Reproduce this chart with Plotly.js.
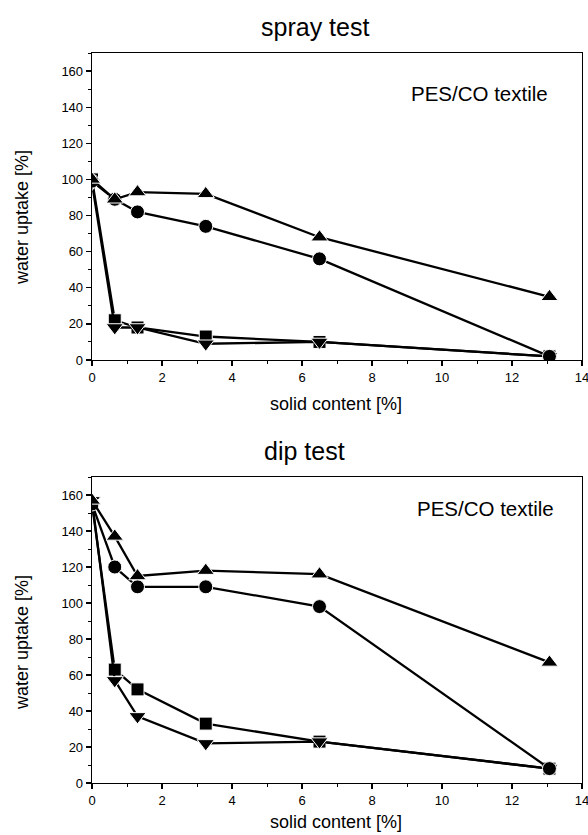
<!DOCTYPE html>
<html>
<head>
<meta charset="utf-8">
<script src="https://cdn.plot.ly/plotly-3.0.1.min.js"></script>
<style>html,body{margin:0;padding:0;background:#fff;}#chart{width:588px;height:835px;}</style>
</head>
<body>
<div id="chart"></div>
<script>
// solid content [%]
const solidContent = [0, 0.65, 1.3, 3.25, 6.5, 13.07];

// spray test water uptake [%]
const sprayTriangle = [100, 89, 93, 92, 68, 35];
const sprayCircle   = [99, 89, 82, 74, 56, 2];
const sprayDown     = [98, 18, 18, 9, 10, 2];
const spraySquare   = [100, 22, 18, 13, 10, 2];

// dip test water uptake [%]
const dipTriangle = [157, 137, 115, 118, 116, 67];
const dipCircle   = [155, 120, 109, 109, 98, 8];
const dipDown     = [157, 57, 37, 22, 23, 8];
const dipSquare   = [155, 63, 52, 33, 23, 8];

const titles = ["spray test", "dip test"];
const annotationText = "PES/CO textile";
const xTitle = "solid content [%]";
const yTitle = "water uptake [%]";

const FONT = "Liberation Sans, Arial, Helvetica, sans-serif";
const W = 588, H = 835;

function tr(y, sym, xa, ya, size) {
  return {
    x: solidContent, y: y, xaxis: xa, yaxis: ya, mode: "lines+markers",
    line: {color: "#000", width: 2.3},
    marker: {symbol: sym, size: size, color: "#000", line: {color: "#fff", width: 1}},
    showlegend: false, hoverinfo: "skip"
  };
}

const data = [
  tr(spraySquare, "square", "x", "y", 13),
  tr(sprayDown, "triangle-down", "x", "y", 15),
  tr(sprayCircle, "circle", "x", "y", 14),
  tr(sprayTriangle, "triangle-up", "x", "y", 15),
  tr(dipSquare, "square", "x2", "y2", 13),
  tr(dipDown, "triangle-down", "x2", "y2", 15),
  tr(dipCircle, "circle", "x2", "y2", 14),
  tr(dipTriangle, "triangle-up", "x2", "y2", 15)
];

function xax(anchor) {
  return {
    domain: [92/W, 582/W], anchor: anchor, range: [0, 14], dtick: 2, tick0: 0,
    showgrid: false, zeroline: false, showline: true, mirror: true, linecolor: "#000", linewidth: 1.3,
    ticks: "outside", ticklen: 5, tickwidth: 1.3, tickcolor: "#000",
    minor: {dtick: 1, ticks: "outside", ticklen: 3, tickwidth: 1, tickcolor: "#000"},
    ticklabeloverflow: "allow",
    tickfont: {family: FONT, size: 13, color: "#000"}
  };
}
function yax(anchor, top, bottom) {
  return {
    domain: [1 - bottom/H, 1 - top/H], anchor: anchor, range: [0, 170], dtick: 20, tick0: 0,
    showgrid: false, zeroline: false, showline: true, mirror: true, linecolor: "#000", linewidth: 1.3,
    ticks: "outside", ticklen: 5, tickwidth: 1.3, tickcolor: "#000",
    minor: {dtick: 10, ticks: "outside", ticklen: 3, tickwidth: 1, tickcolor: "#000"},
    tickfont: {family: FONT, size: 13, color: "#000"}
  };
}

function ann(text, px, py, size, xanchor, angle) {
  return {text: text, xref: "paper", yref: "paper", x: px / W, y: 1 - py / H,
    xanchor: xanchor || "center", yanchor: "middle", showarrow: false, textangle: angle || 0,
    font: {family: FONT, size: size, color: "#000"}};
}

const layout = {
  width: W, height: H,
  margin: {l: 0, r: 0, t: 0, b: 0},
  paper_bgcolor: "#fff", plot_bgcolor: "#fff",
  font: {family: FONT, color: "#000"},
  xaxis: xax("y"),
  yaxis: yax("x", 53, 360),
  xaxis2: xax("y2"),
  yaxis2: yax("x2", 477, 783),
  annotations: [
    ann(titles[0], 315, 27, 25),
    ann(titles[1], 304, 451, 25),
    ann(xTitle, 336, 404, 18),
    ann(xTitle, 336, 822, 18),
    ann(yTitle, 22, 218, 18, "center", -90),
    ann(yTitle, 22, 643, 18, "center", -90),
    ann(annotationText, 550, 93, 20.5, "right"),
    ann(annotationText, 556, 508, 20.5, "right")
  ]
};

Plotly.newPlot("chart", data, layout, {staticPlot: true, displayModeBar: false});
</script>
</body>
</html>
